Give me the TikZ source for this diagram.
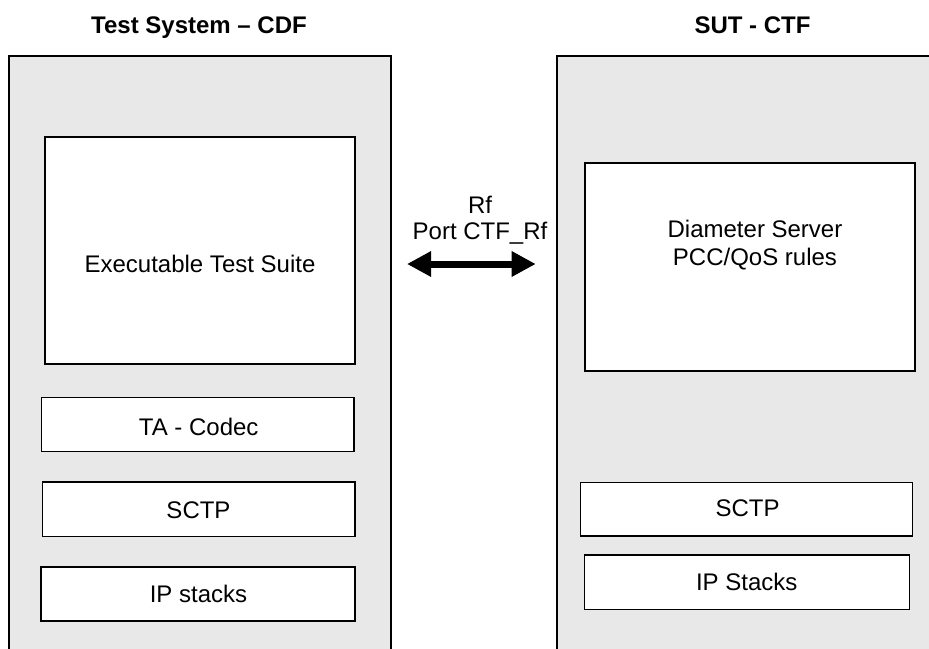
\documentclass[tikz,border=0pt]{standalone}
\usepackage{fontspec}
\setmainfont{Liberation Sans}
\usetikzlibrary{arrows.meta}
\definecolor{panelgray}{HTML}{E8E8E8}
\tikzset{
  panel/.style={draw=black, line width=2.4pt, fill=panelgray, rectangle, inner sep=0pt, outer sep=0pt},
  inbox/.style={draw=black, line width=1.3pt, fill=white, rectangle, inner sep=0pt, outer sep=0pt},
  lbl/.style={anchor=base, inner sep=0pt, font=\fontsize{24}{26}\selectfont},
  title/.style={lbl, font=\fontsize{24}{26}\selectfont\bfseries},
  biarrow/.style={line width=7pt, {Triangle[length=24pt,width=24pt]}-{Triangle[length=24pt,width=24pt]}}
}
\begin{document}
\begin{tikzpicture}[x=1pt,y=-1pt]
\useasboundingbox (0,0) rectangle (929,648);
\clip (0,0) rectangle (929,648);
% panels
\node[panel, minimum width=382pt, minimum height=620pt] (tsys) at (200,366) {};
\node[panel, minimum width=400pt, minimum height=620pt] (sut) at (757,366) {};
% titles
\node[title] (ttitle) at (199,33) {Test System – CDF};
\node[title] (stitle) at (752.5,33) {SUT - CTF};
% left stack
\node[inbox, minimum width=310pt, minimum height=227pt] (ets) at (200,250.5) {};
\node[lbl] (etstxt) at (200,272) {Executable Test Suite};
\node[inbox, minimum width=312.3pt, minimum height=54pt] (ta) at (197.85,424.7) {};
\node[lbl] (tatxt) at (198.7,435) {TA - Codec};
\node[inbox, minimum width=312.3pt, minimum height=54.7pt] (sctpl) at (198.85,509.35) {};
\node[lbl] (sctpltxt) at (198.5,518.3) {SCTP};
\node[inbox, minimum width=314pt, minimum height=54pt] (ipl) at (198,594) {};
\node[lbl] (ipltxt) at (198.5,602.5) {IP stacks};
% right stack
\node[inbox, minimum width=330pt, minimum height=208pt] (diam) at (750,267) {};
\node[lbl] (diamtxt1) at (755,237.5) {Diameter Server};
\node[lbl] (diamtxt2) at (755,265) {PCC/QoS rules};
\node[inbox, minimum width=332pt, minimum height=53.7pt] (sctpr) at (746.7,509.15) {};
\node[lbl] (sctprtxt) at (747.5,516.7) {SCTP};
\node[inbox, minimum width=325pt, minimum height=54.3pt] (ipr) at (746.8,582.15) {};
\node[lbl] (iprtxt) at (746.7,590.7) {IP Stacks};
% interface
\node[lbl] (rf) at (480,213) {Rf};
\node[lbl] (port) at (480,239) {Port CTF\_Rf};
\coordinate (al) at (407,264);
\coordinate (ar) at (535.7,264);
\draw[biarrow] (al) -- (ar);
\end{tikzpicture}
\end{document}
